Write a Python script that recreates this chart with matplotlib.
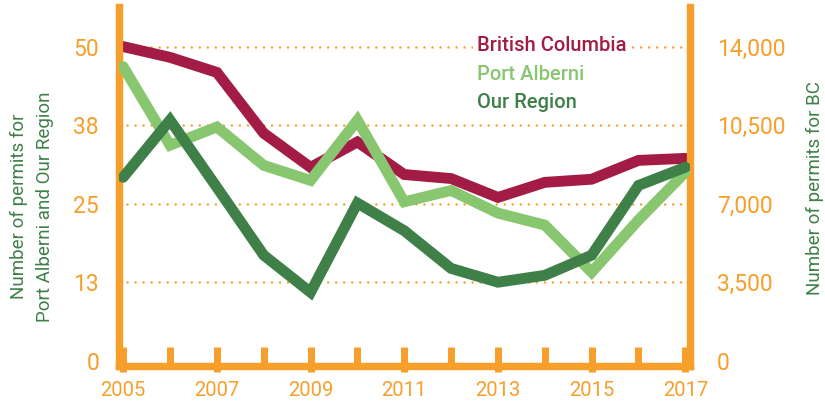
import matplotlib
matplotlib.use("Agg")
from matplotlib import pyplot as plt

# data
years = [2005, 2006, 2007, 2008, 2009, 2010, 2011, 2012, 2013, 2014, 2015, 2016, 2017]
bc_permits = [14000, 13520, 12850, 10140, 8620, 9750, 8300, 8120, 7280, 7950, 8090, 8930, 9020]
port_alberni = [46.8, 34.3, 37.2, 31.1, 28.7, 38.3, 25.3, 27.1, 23.5, 21.6, 14.1, 22.4, 30.0]
our_region = [29.2, 38.3, 27.6, 16.8, 10.9, 25.1, 20.7, 14.7, 12.5, 13.6, 16.8, 27.9, 30.8]

left_ticks = [0, 12.5, 25, 37.5, 50]
left_labels = ["0", "13", "25", "38", "50"]
right_ticks = [0, 3500, 7000, 10500, 14000]
right_labels = ["0", "3,500", "7,000", "10,500", "14,000"]
series_names = ["British Columbia", "Port Alberni", "Our Region"]

ORANGE = "#F79E2B"
MAROON = "#A31C45"
LIGHT = "#88C770"
DARK = "#3E8047"

plt.rcParams["font.family"] = ["Roboto", "DejaVu Sans"]

fig = plt.figure(figsize=(8.25, 4.03), dpi=100)
ax = fig.add_axes([118.5 / 825, 37 / 403, 571.5 / 825, 359 / 403])
ax2 = ax.twinx()

ylo, yhi = -0.83, 56.3
ax.set_ylim(ylo, yhi)
ax2.set_ylim(ylo * 280, yhi * 280)
ax.set_xlim(2004.9, 2017.1)

# dotted grid lines
for v in left_ticks[1:]:
    ax.axhline(v, color=ORANGE, lw=1.8, linestyle=(0, (0.01, 3.2)),
               dash_capstyle="round", zorder=1)

lw = 7.8
ax2.plot(years, bc_permits, color=MAROON, lw=lw, solid_capstyle="round",
         solid_joinstyle="miter", zorder=2)
ax2.plot(years, [p * 280 for p in port_alberni], color=LIGHT, lw=lw,
         solid_capstyle="round", solid_joinstyle="miter", zorder=3)
ax2.plot(years, [r * 280 for r in our_region], color=DARK, lw=lw,
         solid_capstyle="round", solid_joinstyle="miter", zorder=4)

# spines
for a in (ax, ax2):
    for s in a.spines.values():
        s.set_color(ORANGE)
        s.set_linewidth(5.2)
    a.spines["top"].set_visible(False)

ax.set_yticks(left_ticks)
ax.set_yticklabels(left_labels)
ax.tick_params(axis="y", length=0, pad=14, labelsize=16.5, labelcolor=ORANGE)
ax2.set_yticks(right_ticks)
ax2.set_yticklabels(right_labels)
ax2.tick_params(axis="y", length=0, pad=19.5, labelsize=16.5, labelcolor=ORANGE)

ax.set_xticks(years)
ax.set_xticklabels([str(y) if y % 2 == 1 else "" for y in years])
ax.set_xticks(years[::2], minor=True)
ax.xaxis.remove_overlapping_locs = False
ax.tick_params(axis="x", which="major", direction="in", length=13.5, width=5,
               color=ORANGE, pad=11, labelsize=14.5, labelcolor=ORANGE)
ax.tick_params(axis="x", which="minor", direction="out", length=4, width=5,
               color=ORANGE)

# series labels
for name, col, yy in zip(series_names, [MAROON, LIGHT, DARK], [0.877, 0.797, 0.719]):
    ax2.text(0.627, yy, name, transform=ax.transAxes, color=col, fontsize=14.5,
             fontweight="medium", va="baseline", ha="left", zorder=5,
             bbox=dict(facecolor="white", edgecolor="none", pad=3))

fig.text(32 / 825, 0.4876, "Number of permits for\nPort Alberni and Our Region",
         rotation=90, ha="center", va="center", color=DARK, fontsize=13.5,
         linespacing=1.55)
fig.text(815 / 825, 0.533, "Number of permits for BC", rotation=90,
         ha="center", va="center", color=DARK, fontsize=13.5)

fig.savefig("out.png", dpi=100)
